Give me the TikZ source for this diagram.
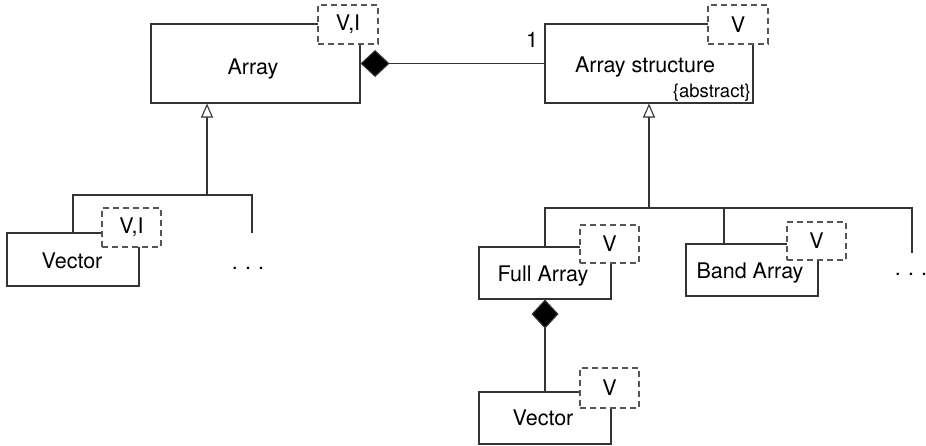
\documentclass[tikz,border=0pt]{standalone}
\usepackage{fontspec}
\setmainfont{TeX Gyre Heros}
\usetikzlibrary{arrows.meta}
\definecolor{ln}{HTML}{333333}
\definecolor{dl}{HTML}{555555}
\begin{document}
\begin{tikzpicture}[x=1pt,y=-1pt,
  cls/.style={draw=ln,line width=1.1pt,fill=white,inner sep=0pt},
  tmpl/.style={draw=dl,line width=1.1pt,fill=white,dash pattern=on 6pt off 4pt,inner sep=0pt,font=\fontsize{21.5}{25}\selectfont},
  conn/.style={draw=ln,line width=1.1pt},
  comp/.style={{Diamond[length=29pt,width=27pt,fill=black]}-},
  gen/.style={-{Triangle[open,length=14pt,width=12pt,fill=white]}},
  lbl/.style={font=\fontsize{21.5}{25}\selectfont,inner sep=0pt,anchor=base}]
\useasboundingbox (0,0) rectangle (926,445);
% class boxes
\node[cls,minimum width=209pt,minimum height=79pt] (arr) at (255.5,63.5) {};
\node[lbl] (arrL) at (253,74) {Array};
\node[cls,minimum width=208pt,minimum height=79pt] (as) at (649,63.5) {};
\node[lbl] (asL) at (645,72) {Array structure};
\node[lbl,font=\fontsize{18.5}{22}\selectfont,anchor=base east] (abs) at (751,97) {\{abstract\}};
\node[cls,minimum width=132pt,minimum height=53pt] (vec1) at (73,259.5) {};
\node[lbl] (vec1L) at (72,268) {Vector};
\node[cls,minimum width=132pt,minimum height=52pt] (full) at (545,273) {};
\node[lbl] (fullL) at (543,281) {Full Array};
\node[cls,minimum width=132pt,minimum height=52pt] (band) at (752,270) {};
\node[lbl] (bandL) at (750,278) {Band Array};
\node[cls,minimum width=132pt,minimum height=52pt] (vec2) at (545,418) {};
\node[lbl] (vec2L) at (543,425) {Vector};
% template boxes
\node[tmpl,minimum width=60pt,minimum height=39pt] (arrT) at (348,24.5) {V,I};
\node[tmpl,minimum width=60pt,minimum height=39pt] (asT) at (738,24.5) {V};
\node[tmpl,minimum width=59pt,minimum height=39pt] (vec1T) at (131.5,227.5) {V,I};
\node[tmpl,minimum width=59pt,minimum height=38pt] (fullT) at (609.5,244) {V};
\node[tmpl,minimum width=59pt,minimum height=38pt] (bandT) at (816.5,241) {V};
\node[tmpl,minimum width=59pt,minimum height=40pt] (vec2T) at (609.5,388) {V};
% dots
\node[lbl] (dots1) at (248,269) {.\,\,.\,\,.};
\node[lbl] (dots2) at (911,275) {.\,\,.\,\,.};
% composition Array - Array structure
\draw[conn,comp] (arr.east) -- (as.west);
\node[lbl] (one) at (532,47) {1};
% generalization left
\coordinate (j1) at (207,195);
\coordinate (e1) at (252,233);
\draw[conn,gen] (j1) -- (j1 |- arr.south);
\draw[conn] (vec1.north) |- (e1 |- j1) -- (e1);
% generalization right
\coordinate (j2) at (649,208);
\coordinate (e2) at (912,253);
\draw[conn,gen] (j2) -- (j2 |- as.south);
\draw[conn] (full.north) |- (e2 |- j2) -- (e2);
\draw[conn] ([xshift=-28pt]band.north) -- ([xshift=-28pt]band.north |- j2);
% composition Full Array - Vector
\draw[conn,comp] (full.south) -- (vec2.north);
\end{tikzpicture}
\end{document}
